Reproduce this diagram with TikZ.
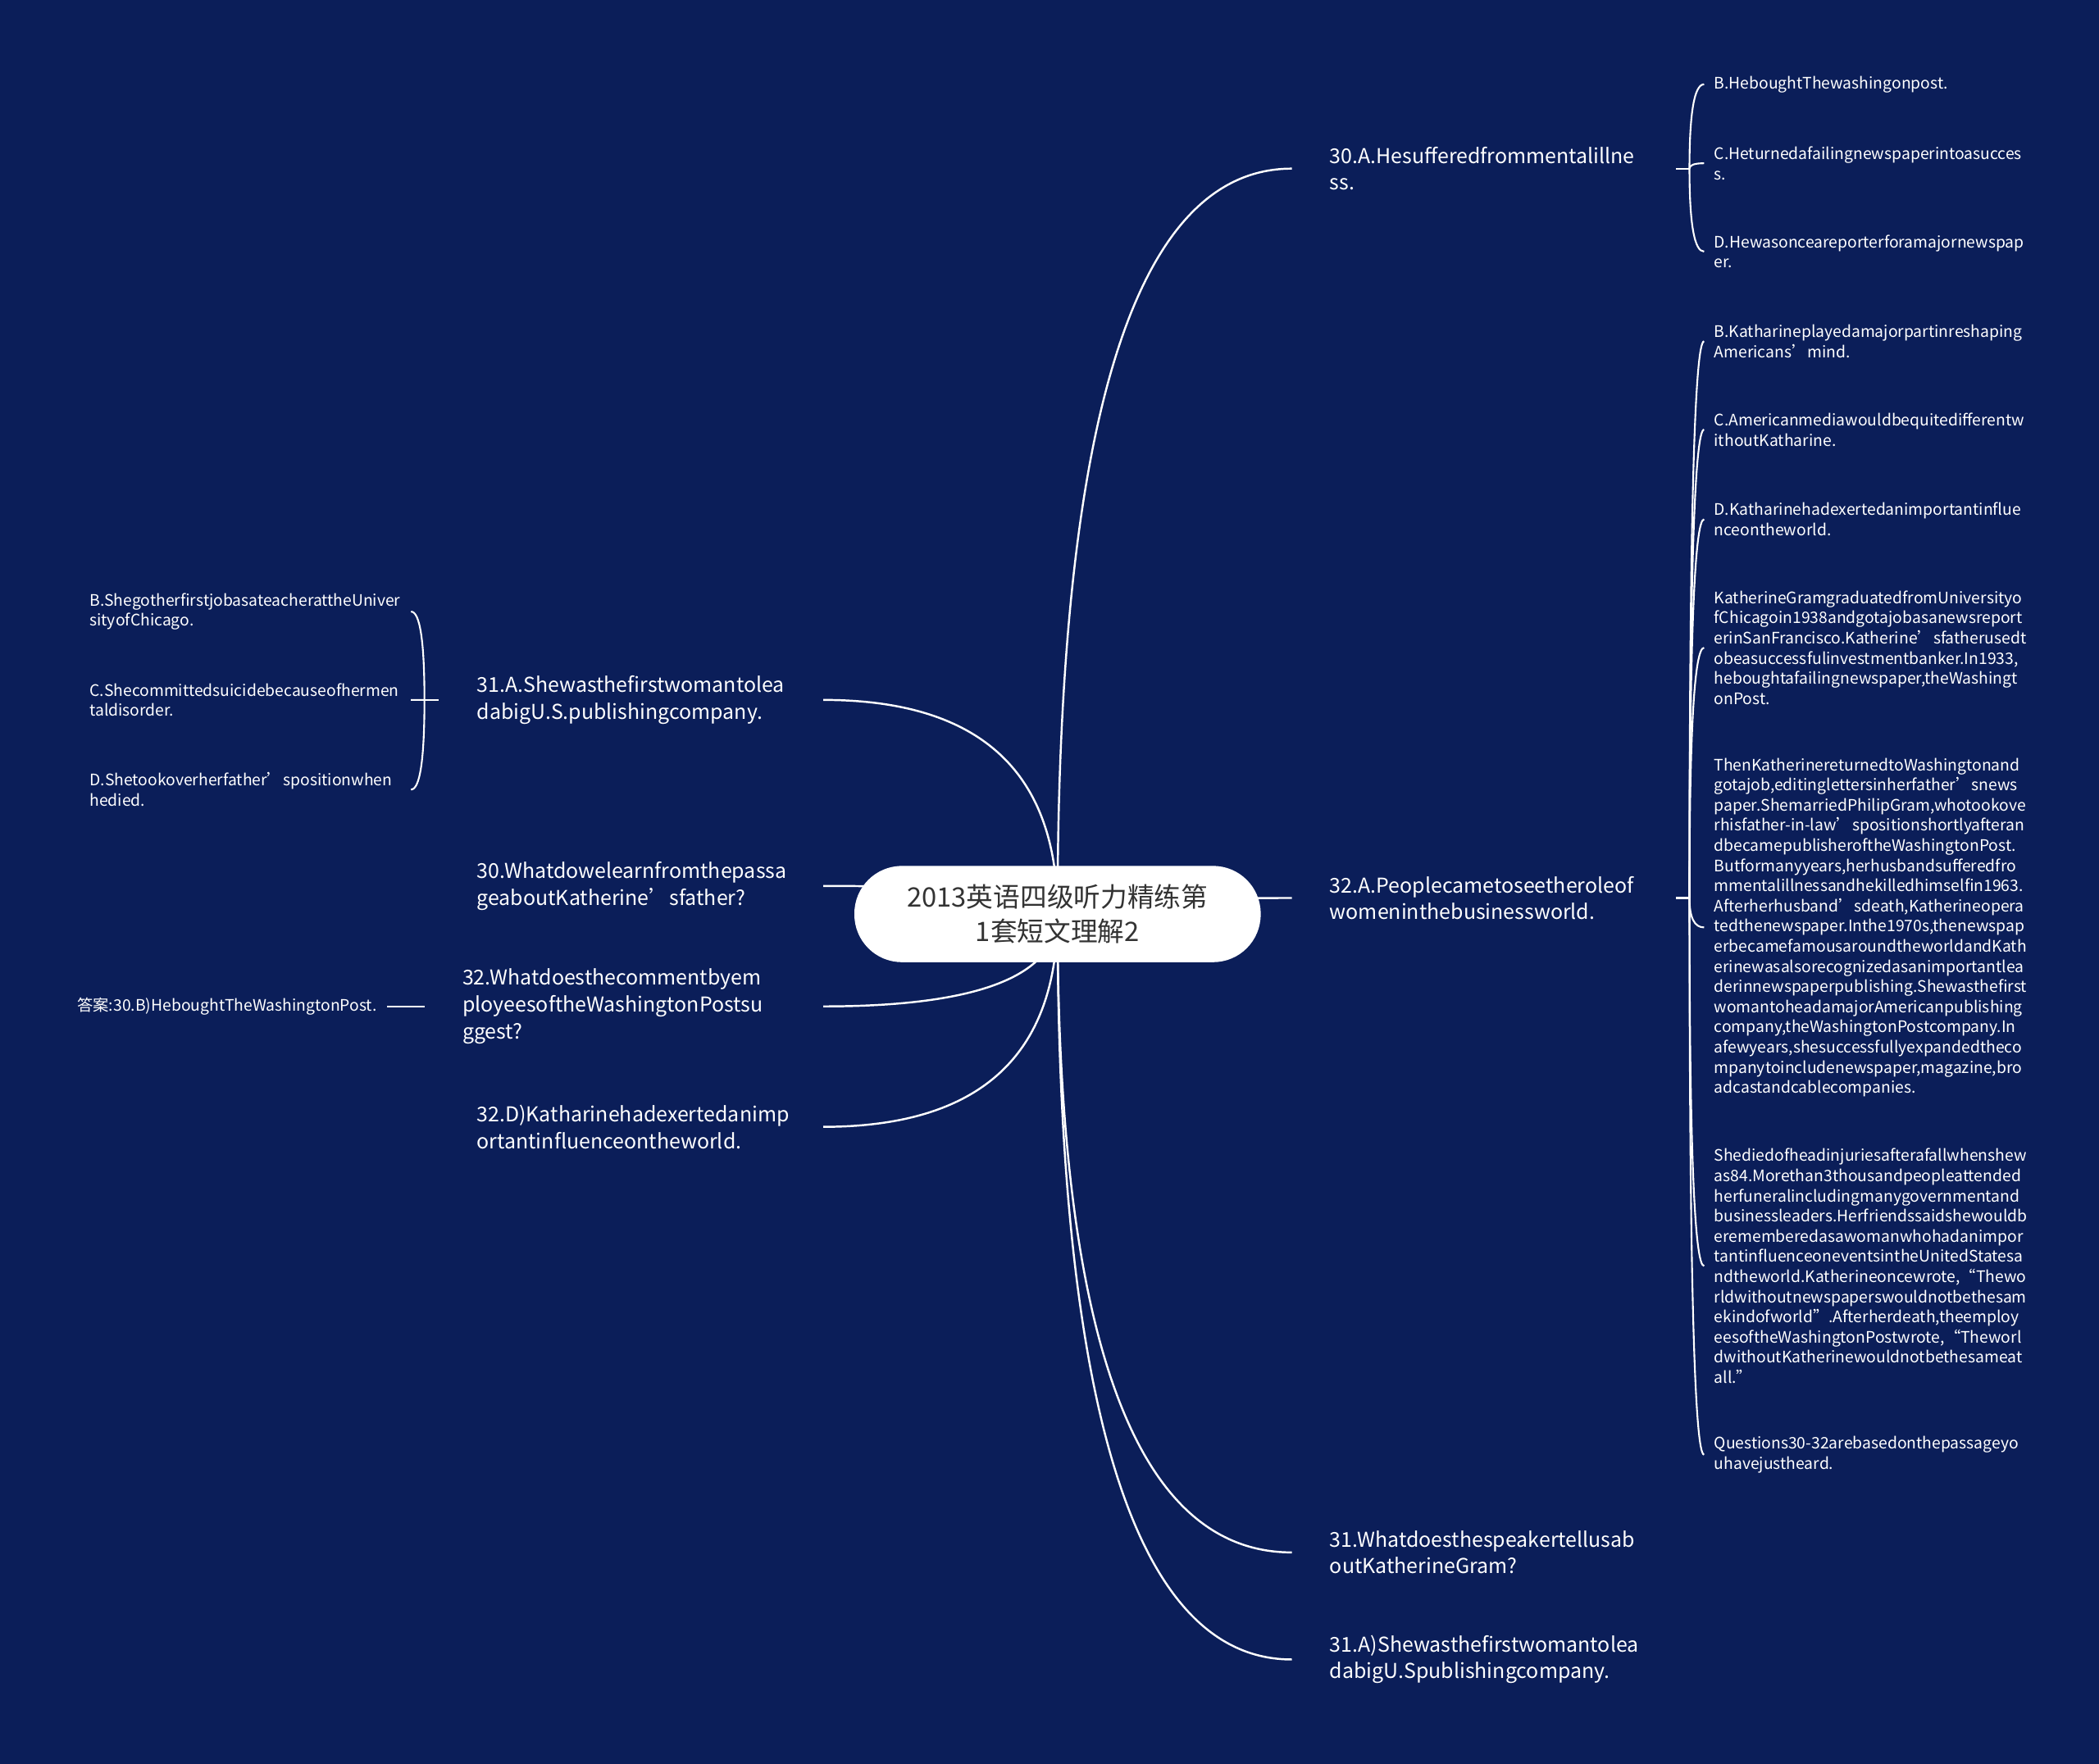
\documentclass[tikz,border=0pt]{standalone}
\usepackage{fontspec}
\setmainfont{Noto Sans CJK SC}
\usetikzlibrary{backgrounds,positioning,calc}
\definecolor{bgblue}{RGB}{11,30,89}
\definecolor{hubtext}{RGB}{51,51,51}
\hyphenpenalty=10000
\exhyphenpenalty=10000

\begin{document}
\begin{tikzpicture}[
    x=0.016327cm, y=-0.016327cm,
    hub/.style={rectangle, rounded corners=16.5pt, fill=white, text=hubtext, minimum width=141pt, minimum height=33.4pt, align=center, font=\fontsize{9.3pt}{12.1pt}\selectfont},
    topic/.style={text=white, align=left, text width=107pt, inner xsep=13pt, inner ysep=2pt, font=\fontsize{7.1pt}{9.3pt}\selectfont},
    leaf/.style={text=white, align=left, text width=108pt, inner xsep=3.3pt, inner ysep=1pt, font=\fontsize{5.5pt}{7pt}\selectfont},
    tag/.style={text=white, inner xsep=3.3pt, font=\fontsize{5.5pt}{7pt}\selectfont},
    link/.style={draw=white, line width=0.7pt},
    twig/.style={draw=white, line width=0.6pt},
    softcurve/.style={to path={.. controls ($(\tikztostart)!2/3!(\tikztostart |- \tikztotarget)$) and ($(\tikztotarget)!2/3!(\tikztostart |- \tikztotarget)$) .. (\tikztotarget)}}
]
\useasboundingbox (0,0) rectangle (1568,1318);

% Centre
\node[hub] (hub) at (790,683) {2013英语四级听力精练第\\1套短文理解2};

% Right topics
\node[topic, anchor=west] (r1) at (965,126) {30.A.Hesufferedfrommentalillne\\ss.};
\node[topic, anchor=west] (r2) at (965,671) {32.A.Peoplecametoseetheroleof\\womeninthebusinessworld.};
\node[topic, anchor=west] (r3) at (965,1160) {31.Whatdoesthespeakertellusab\\outKatherineGram?};
\node[topic, anchor=west] (r4) at (965,1240) {31.A)Shewasthefirstwomantolea\\dabigU.Spublishingcompany.};

% Left topics
\node[topic, anchor=east] (l1) at (615,523) {31.A.Shewasthefirstwomantolea\\dabigU.S.publishingcompany.};
\node[topic, anchor=east] (l2) at (615,662) {30.Whatdowelearnfromthepassa\\geaboutKatherine’sfather?};
\node[topic, anchor=east, text width=112pt] (l3) at (615,752) {32.Whatdoesthecommentbyem\\ployeesoftheWashingtonPostsu\\ggest?};
\node[topic, anchor=east] (l4) at (615,842) {32.D)Katharinehadexertedanimp\\ortantinfluenceontheworld.};

% Options of question 30
\node[leaf, anchor=west] (r1b) at (1273,63) {B.HeboughtThewashingonpost.};
\node[leaf, anchor=west] (r1c) at (1273,122) {C.Heturnedafailingnewspaperintoasucces\\s.};
\node[leaf, anchor=west] (r1d) at (1273,188) {D.Hewasonceareporterforamajornewspap\\er.};

% Options of question 32 and the passage
\node[leaf, anchor=west] (r2a) at (1273,255) {B.Katharineplayedamajorpartinreshaping\\Americans’mind.};
\node[leaf, anchor=west] (r2b) at (1273,321) {C.Americanmediawouldbequitedifferentw\\ithoutKatharine.};
\node[leaf, anchor=west] (r2c) at (1273,388) {D.Katharinehadexertedanimportantinflue\\nceontheworld.};
\node[leaf, anchor=west] (r2d) at (1273,484) {KatherineGramgraduatedfromUniversityo\\fChicagoin1938andgotajobasanewsreport\\erinSanFrancisco.Katherine’sfatherusedt\\obeasuccessfulinvestmentbanker.In1933,\\heboughtafailingnewspaper,theWashingt\\onPost.};
\node[leaf, anchor=west] (r2e) at (1273,693) {ThenKatherinereturnedtoWashingtonand\\gotajob,editinglettersinherfather’snews\\paper.ShemarriedPhilipGram,whotookove\\rhisfather-in-law’spositionshortlyafteran\\dbecamepublisheroftheWashingtonPost.\\Butformanyyears,herhusbandsufferedfro\\mmentalillnessandhekilledhimselfin1963.\\Afterherhusband’sdeath,Katherineopera\\tedthenewspaper.Inthe1970s,thenewspap\\erbecamefamousaroundtheworldandKath\\erinewasalsorecognizedasanimportantlea\\derinnewspaperpublishing.Shewasthefirst\\womantoheadamajorAmericanpublishing\\company,theWashingtonPostcompany.In\\afewyears,shesuccessfullyexpandedtheco\\mpanytoincludenewspaper,magazine,bro\\adcastandcablecompanies.};
\node[leaf, anchor=west] (r2f) at (1273,946) {Shediedofheadinjuriesafterafallwhenshew\\as84.Morethan3thousandpeopleattended\\herfuneralincludingmanygovernmentand\\businessleaders.Herfriendssaidshewouldb\\erememberedasawomanwhohadanimpor\\tantinfluenceoneventsintheUnitedStatesa\\ndtheworld.Katherineoncewrote,“Thewo\\rldwithoutnewspaperswouldnotbethesam\\ekindofworld”.Afterherdeath,theemploy\\eesoftheWashingtonPostwrote,“Theworl\\dwithoutKatherinewouldnotbethesameat\\all.”};
\node[leaf, anchor=west] (r2g) at (1273,1087) {Questions30-32arebasedonthepassageyo\\uhavejustheard.};

% Options of question 31
\node[leaf, anchor=east] (l1b) at (307,457) {B.ShegotherfirstjobasateacherattheUniver\\sityofChicago.};
\node[leaf, anchor=east] (l1c) at (307,523) {C.Shecommittedsuicidebecauseofhermen\\taldisorder.};
\node[leaf, anchor=east] (l1d) at (307,590) {D.Shetookoverherfather’spositionwhen\\hedied.};

% Answer
\node[tag, left=13pt of l3] (ans) {答案:30.B)HeboughtTheWashingtonPost.};

% Bracket joints
\coordinate (k1) at ([xshift=4.6pt]r1.east);
\coordinate (k2) at ([xshift=4.6pt]r2.east);
\coordinate (k3) at ([xshift=-5pt]l1.west);

\begin{scope}[on background layer]
\fill[bgblue] (0,0) rectangle (1568,1318);

% Hub links
\foreach \t in {r1,r2,r3,r4}
  \draw[link] (hub.center) to[softcurve] (\t.west);
\foreach \t in {l1,l2,l3,l4}
  \draw[link] (hub.center) to[softcurve] (\t.east);

% Brackets
\draw[twig] (r1.east) -- (k1);
\foreach \c in {r1b,r1c,r1d}
  \draw[twig] (k1) to[softcurve] (\c.west);
\draw[twig] (r2.east) -- (k2);
\foreach \c in {r2a,r2b,r2c,r2d,r2e,r2f,r2g}
  \draw[twig] (k2) to[softcurve] (\c.west);
\draw[twig] (l1.west) -- (k3);
\foreach \c in {l1b,l1c,l1d}
  \draw[twig] (k3) to[softcurve] (\c.east);
\draw[twig] (l3.west) -- (ans.east);
\end{scope}

\end{tikzpicture}
\end{document}
